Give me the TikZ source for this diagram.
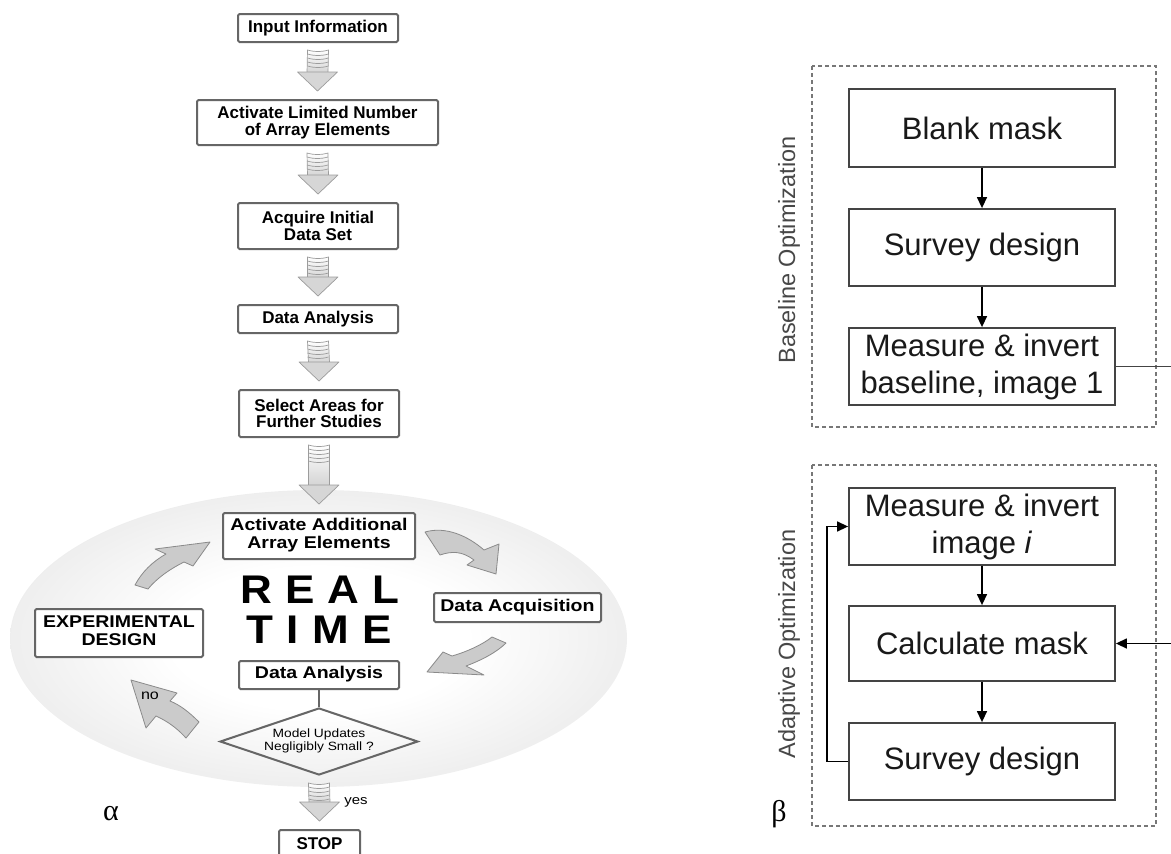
\documentclass[tikz,border=0pt]{standalone}
\usepackage{fontspec}
\setmainfont{Liberation Sans}
\newfontfamily\greekserif{Liberation Serif}
\usepackage{graphicx}
\usetikzlibrary{shapes.geometric,arrows.meta,calc}

\definecolor{boxgray}{HTML}{666666}
\definecolor{blockfill}{HTML}{CBCBCB}
\definecolor{blockline}{HTML}{8A8A8A}
\definecolor{stripeline}{HTML}{9C9C9C}
\definecolor{framegray}{HTML}{777777}
\definecolor{panelline}{HTML}{444444}

% soft glow behind the real-time loop
\pgfdeclareradialshading{realtimeglow}{\pgfpoint{0bp}{0bp}}{%
  color(0bp)=(white);color(12bp)=(white);color(30bp)=(black!9);%
  color(44bp)=(black!20);color(50bp)=(black!29)}

% horizontally widened text block
\newcommand\wide[2][1.15]{\scalebox{#1}[1]{\begin{tabular}{@{}c@{}}#2\end{tabular}}}

% striped block arrow between two boxes
\newcommand\stripedarrow[2]{%
  \coordinate (sa) at ($(#1.south)+(0,7)$);
  \coordinate (sb) at ($(#2.north)+(0,-8)$);
  \shadedraw[top color=white, bottom color=black!17, draw=stripeline, line width=0.7pt]
    ($(sa)+(-10.5,0)$) to[bend right=15] ($(sa)+(10.5,0)$)
    -- ($(sb)+(10.5,-18)$) -- ($(sb)+(-10.5,-18)$) -- cycle;
  \foreach \k in {1,...,4}
    \draw[stripeline, line width=0.7pt] ($(sa)+(-10.5,4*\k)$) to[bend right=15] ($(sa)+(10.5,4*\k)$);
  \filldraw[fill=black!16, draw=stripeline, line width=0.7pt, line join=round]
    ($(sb)+(-20,-19)$) -- (sb) -- ($(sb)+(20,-19)$) -- cycle;
}

\tikzset{
  flowbox/.style={draw=boxgray, line width=2pt, rounded corners=1.5pt, fill=white,
    inner sep=0pt, align=center, font=\bfseries\fontsize{17}{16.5}\selectfont},
  loopbox/.style={flowbox, font=\bfseries\fontsize{17}{17.3}\selectfont},
  blockarrow/.style={fill=blockfill, draw=blockline, line width=0.8pt, line join=round},
  stepbox/.style={draw=panelline, line width=1.8pt, fill=white, inner sep=0pt,
    align=center, minimum width=266pt, text=black!90, font=\fontsize{31}{37}\selectfont},
  dashframe/.style={draw=framegray, line width=1.2pt, dash pattern=on 4pt off 3pt},
  flowarrow/.style={draw=black, line width=1.4pt, -{Triangle[length=11pt,width=10pt]}},
  sidelabel/.style={rotate=90, text=black!72, font=\fontsize{23.5}{24}\selectfont},
}

\begin{document}
\begin{tikzpicture}[x=1pt, y=-1pt]
\useasboundingbox (0,0) rectangle (1171,854);

% ---------- left: adaptive survey flow ----------
\node[flowbox, minimum width=160pt, minimum height=28pt] (input) at (318,28) {Input Information};
\node[flowbox, minimum width=241pt, minimum height=45pt] (limited) at (317.5,122.5) {Activate Limited Number\\of Array Elements};
\node[flowbox, minimum width=160pt, minimum height=46pt] (initial) at (318,226) {Acquire Initial\\Data Set};
\node[flowbox, minimum width=160pt, minimum height=28pt] (analysis) at (318,319) {Data Analysis};
\node[flowbox, minimum width=160pt, minimum height=47pt] (select) at (319,413.5) {Select Areas for\\Further Studies};

% real-time loop background
\shade[shading=realtimeglow] (318.5,638.5) ellipse [x radius=308.5pt, y radius=148.5pt];

\node[loopbox, minimum width=192pt, minimum height=46pt] (additional) at (319,536) {\wide{Activate Additional\\Array Elements}};
\node[loopbox, minimum width=167pt, minimum height=29pt] (acquisition) at (517.5,607.5) {\wide{Data Acquisition}};
\node[loopbox, minimum width=168pt, minimum height=48pt] (design) at (119,633) {\wide{EXPERIMENTAL\\DESIGN}};
\node[loopbox, minimum width=160pt, minimum height=28pt] (analysis2) at (319,675) {\wide{Data Analysis}};
\node[draw=boxgray, line width=2pt, diamond, aspect=2.95, minimum width=198pt, minimum height=67pt,
      inner sep=0pt, font=\fontsize{12}{13}\selectfont] (check) at (319,741.5) {\wide{Model Updates\\Negligibly Small ?}};
\node[flowbox, minimum width=81pt, minimum height=27pt] (stop) at (319.5,843.5) {STOP};

\node[font=\bfseries\fontsize{40}{40}\selectfont] (real) at (320,589.5) {\scalebox{1.1}[1]{R\kern12pt E\kern12pt A\kern12pt L}};
\node[font=\bfseries\fontsize{40}{40}\selectfont] (time) at (319,630) {\scalebox{1.1}[1]{T\kern12pt I\kern12pt M\kern12pt E}};

\draw[boxgray, line width=2pt] (analysis2.south) -- (check.north);

% straight striped arrows
\stripedarrow{input}{limited}
\stripedarrow{limited}{initial}
\stripedarrow{initial}{analysis}
\stripedarrow{analysis}{select}
\stripedarrow{select}{additional}
\stripedarrow{check}{stop}

% curved loop arrows
\filldraw[blockarrow] (425,532) .. controls (446,526) and (468,536) .. (484,550) -- (499,544)
  -- (496,574) -- (467,565) -- (474,560) .. controls (462,551) and (452,551) .. (440,555) -- cycle;
\filldraw[blockarrow] (492,637) .. controls (482,645) and (466,652) .. (452,656) -- (443,652)
  -- (427,672) -- (484,675) -- (466,666) .. controls (482,660) and (497,652) .. (506,643) -- cycle;
\filldraw[blockarrow] (199,722) .. controls (189,712) and (180,705) .. (170,701) -- (177,693)
  -- (131,680) -- (146,728) -- (156,716) .. controls (167,721) and (177,728) .. (186,738) -- cycle;
\filldraw[blockarrow] (135,585) .. controls (142,572) and (152,562) .. (166,554) -- (155,549)
  -- (210,542) -- (193,566) -- (184,562) .. controls (170,569) and (157,578) .. (148,589) -- cycle;

\node[font=\fontsize{14}{14}\selectfont] (nolabel) at (150,697) {\wide{no}};
\node[font=\fontsize{13}{13}\selectfont] (yeslabel) at (356,802) {\wide{yes}};
\node[font=\greekserif\fontsize{30}{30}\selectfont] (alpha) at (111,814) {α};

% ---------- right: baseline and adaptive optimization ----------
\draw[dashframe] (812,66) rectangle (1156,427);
\draw[dashframe] (812,465) rectangle (1156,826);
\node[sidelabel] (baselinelabel) at (789,250) {Baseline Optimization};
\node[sidelabel] (adaptivelabel) at (789,644) {Adaptive Optimization};

\node[stepbox, minimum height=78pt] (blank) at (982,128) {Blank mask};
\node[stepbox, minimum height=77pt] (survey1) at (982,247.5) {Survey design};
\node[stepbox, minimum height=77pt] (measure1) at (982,366.5) {Measure \& invert\\baseline, image 1};
\node[stepbox, minimum height=77pt] (measure2) at (982,526.5) {Measure \& invert\\image \textit{i}};
\node[stepbox, minimum height=75pt] (calc) at (982,643.5) {Calculate mask};
\node[stepbox, minimum height=77pt] (survey2) at (982,761.5) {Survey design};

\coordinate (outbase) at (1172,366.5);
\coordinate (inmask) at (1172,643.5);

\draw[flowarrow] (blank) -- (survey1);
\draw[flowarrow] (survey1) -- (measure1);
\draw[panelline, line width=1.8pt] (measure1.east) -- (outbase);
\draw[flowarrow] (measure2) -- (calc);
\draw[flowarrow] (calc) -- (survey2);
\draw[flowarrow] (survey2.west) -- ++(-21,0) |- (measure2.west);
\draw[flowarrow] (inmask) -- (calc.east);

\node[font=\greekserif\fontsize{30}{30}\selectfont] (beta) at (779,814) {β};
\end{tikzpicture}
\end{document}
